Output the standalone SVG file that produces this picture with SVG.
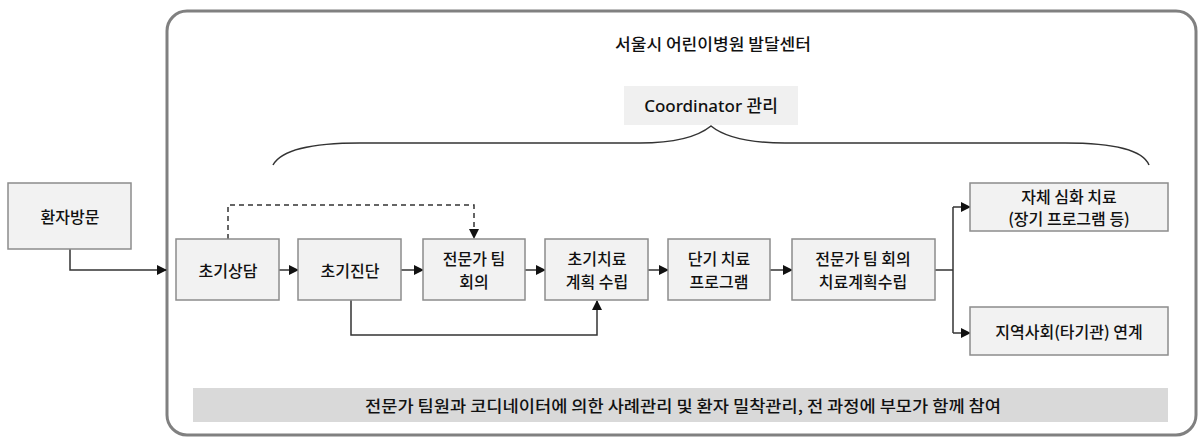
<svg xmlns="http://www.w3.org/2000/svg" width="1200" height="438" viewBox="0 0 1200 438">
<defs>
<marker id="ah" markerWidth="10" markerHeight="10" refX="9" refY="5" orient="auto" markerUnits="userSpaceOnUse"><path d="M0,0 L10,5 L0,10 Z" fill="#111"/></marker>
<style>
.box{fill:#f2f2f2;stroke:#8c8c8c;stroke-width:1.5}
.t{font-family:"Noto Sans CJK KR","Malgun Gothic",sans-serif;font-size:16px;fill:#111;text-anchor:middle;dominant-baseline:central;font-weight:500}
.c{fill:none;stroke:#333;stroke-width:1.5}
.d{fill:none;stroke:#333;stroke-width:1.5;stroke-dasharray:5 4}
.br{fill:none;stroke:#333;stroke-width:1.5}
</style>
</defs>
<rect width="1200" height="438" fill="#fff"/>
<g id="center">
<rect x="167" y="11" width="1029" height="424" rx="20" fill="#fff" stroke="#808080" stroke-width="3"/>
<text class="t" x="713" y="43" textLength="196" lengthAdjust="spacingAndGlyphs">서울시 어린이병원 발달센터</text>
</g>
<g id="coordinator">
<rect x="624" y="86" width="174" height="39" fill="#f0f0f0"/>
<text x="711" y="105" style="font-family:'Noto Sans','Open Sans','Noto Sans CJK KR',sans-serif;font-size:17px;font-weight:500;fill:#111;text-anchor:middle;dominant-baseline:central">Coordinator 관리</text>
<path class="br" d="M273,165 Q285,143 360,143 L640,143 Q690,143 711,126 Q732,143 785,143 L1065,143 Q1140,143 1149,165"/>
</g>
<g id="connectors">
<path class="c" d="M70,249 V270 H166" marker-end="url(#ah)"/>
<path class="c" d="M279,270 H298" marker-end="url(#ah)"/>
<path class="c" d="M401,270 H423" marker-end="url(#ah)"/>
<path class="c" d="M525,270 H545" marker-end="url(#ah)"/>
<path class="c" d="M648,270 H668" marker-end="url(#ah)"/>
<path class="c" d="M770,270 H792" marker-end="url(#ah)"/>
<path class="d" d="M228,239 V205 H474 V238" marker-end="url(#ah)"/>
<path class="c" d="M351,300 V335 H597 V301" marker-end="url(#ah)"/>
<path class="c" d="M935,270 H953"/>
<path class="c" d="M953,207 V333"/>
<path class="c" d="M953,207 H970" marker-end="url(#ah)"/>
<path class="c" d="M953,333 H970" marker-end="url(#ah)"/>
</g>
<g id="n-visit">
<rect class="box" x="8" y="183" width="123" height="66"/>
<text class="t" x="70" y="216">환자방문</text>
</g>
<g id="n-consult">
<rect class="box" x="176" y="239" width="103" height="61"/>
<text class="t" x="228" y="270">초기상담</text>
</g>
<g id="n-diag">
<rect class="box" x="298" y="239" width="103" height="61"/>
<text class="t" x="350" y="270">초기진단</text>
</g>
<g id="n-team">
<rect class="box" x="423" y="239" width="102" height="61"/>
<text class="t" x="474" y="258">전문가 팀</text>
<text class="t" x="474" y="281">회의</text>
</g>
<g id="n-plan">
<rect class="box" x="545" y="239" width="103" height="61"/>
<text class="t" x="597" y="258">초기치료</text>
<text class="t" x="597" y="281">계획 수립</text>
</g>
<g id="n-short">
<rect class="box" x="668" y="239" width="102" height="61"/>
<text class="t" x="719" y="258">단기 치료</text>
<text class="t" x="719" y="281">프로그램</text>
</g>
<g id="n-team2">
<rect class="box" x="792" y="239" width="143" height="61"/>
<text class="t" x="863" y="258">전문가 팀 회의</text>
<text class="t" x="863" y="281">치료계획수립</text>
</g>
<g id="n-intensive">
<rect class="box" x="970" y="183" width="198" height="48"/>
<text class="t" x="1069" y="196">자체 심화 치료</text>
<text class="t" x="1069" y="218">(장기 프로그램 등)</text>
</g>
<g id="n-community">
<rect class="box" x="970" y="307" width="198" height="48"/>
<text class="t" x="1069" y="331">지역사회(타기관) 연계</text>
</g>
<g id="band">
<rect x="193" y="388" width="975" height="34" fill="#d9d9d9"/>
<text class="t" x="683" y="405" textLength="636" lengthAdjust="spacingAndGlyphs">전문가 팀원과 코디네이터에 의한 사례관리 및 환자 밀착관리, 전 과정에 부모가 함께 참여</text>
</g>
</svg>
